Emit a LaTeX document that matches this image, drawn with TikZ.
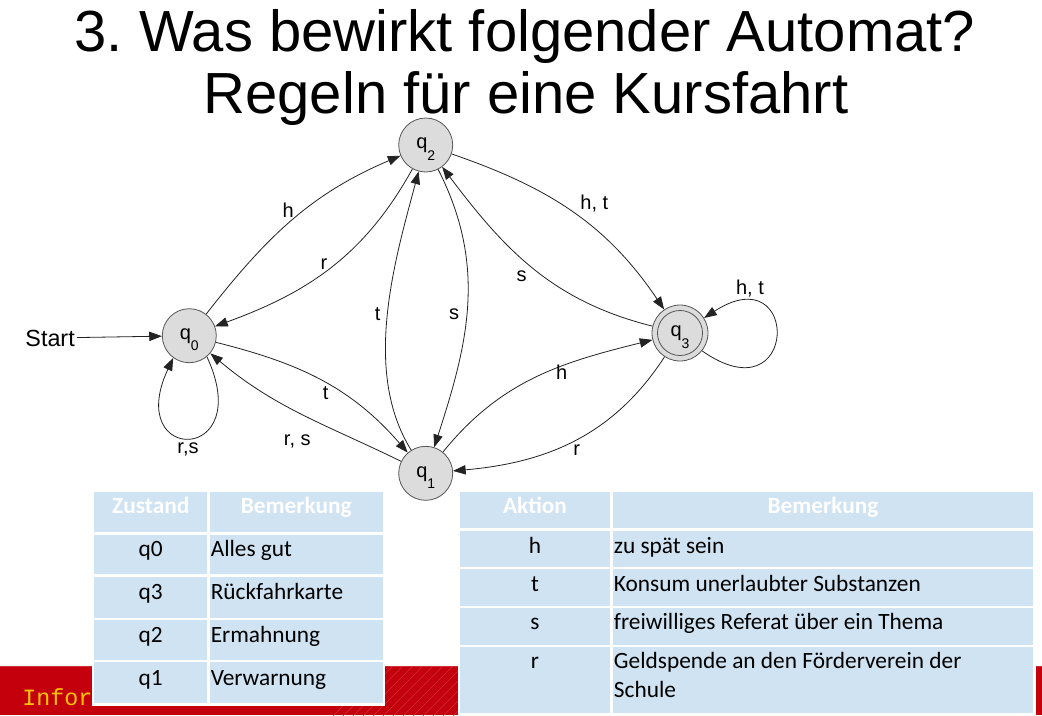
\documentclass[tikz,border=0pt]{standalone}
\usepackage{fontspec}
\setmainfont{Liberation Sans}
\newfontfamily\tablefont{Carlito}
\newfontfamily\footfont{Liberation Mono}
\usetikzlibrary{arrows.meta}
\definecolor{cellblue}{RGB}{207,227,242}
\definecolor{bandred}{RGB}{196,0,12}
\definecolor{stripe}{RGB}{208,48,60}
\definecolor{footyellow}{RGB}{255,196,0}
\definecolor{statefill}{RGB}{220,220,220}
\definecolor{stateline}{RGB}{85,85,85}
\definecolor{edgecol}{RGB}{35,35,35}
\frenchspacing
% state name with a lowered index that does not change the box size
\newcommand{\qsub}[1]{q\raisebox{-8.6pt}[0pt][0pt]{\fontsize{10.5pt}{12pt}\selectfont #1}}

\begin{document}
\begin{tikzpicture}[x=0.75pt,y=0.75pt,
  state/.style={circle, draw=stateline, line width=0.6pt, fill=statefill,
    minimum size=40.5pt, inner sep=0pt, font=\fontsize{15pt}{18pt}\selectfont,
    text height=7.8pt, text depth=2.2pt},
  accept/.style={state, minimum size=42pt,
    path picture={\draw[stateline, line width=0.6pt]
      (path picture bounding box.center) circle[radius=16.9pt];}},
  trans/.style={draw=edgecol, line width=0.6pt, -{Triangle[length=9.5pt,width=7pt]}},
  lbl/.style={font=\fontsize{15pt}{18pt}\selectfont, inner sep=0pt},
  gridline/.style={draw=white, line width=1.8pt},
  hdr/.style={font=\tablefont\bfseries\fontsize{17.5pt}{21pt}\selectfont,
    text=white, inner sep=0pt, anchor=base},
  txt/.style={font=\tablefont\fontsize{17.5pt}{21pt}\selectfont,
    inner sep=0pt, anchor=base west},
  ctr/.style={txt, anchor=base},
  titletext/.style={font=\fontsize{43.5pt}{52pt}\selectfont, inner sep=0pt, anchor=base},
]
\useasboundingbox (0,0) rectangle (1042,-715);
\fill[white] (0,0) rectangle (1042,-715);

% footer band
\fill[bandred] (0,-666) rectangle (1042,-715);
\begin{scope}
  \clip (333,-667) rectangle (460,-715);
  \foreach \i in {0,10,...,190}
    \draw[stripe, line width=0.5pt] (283+\i,-716) -- ++(50,50);
\end{scope}
\draw[stripe, line width=0.8pt] (0,-666.4) -- (1042,-666.4);
\node[font=\footfont\fontsize{17.5pt}{20pt}\selectfont, text=footyellow,
  inner sep=0pt, anchor=base west] (foot) at (22,-705) {Infor};

% title
\node[titletext] (title1) at (525,-51.5) {3. Was bewirkt folgender Automat?};
\node[titletext] (title2) at (526,-113) {Regeln für eine Kursfahrt};

% table of states: white frame, blue body, white grid
\fill[white] (91.7,-488) rectangle (385,-706);
\fill[cellblue] (94,-491.7) rectangle (383,-703.3);
\draw[gridline] (208.5,-491.7) -- (208.5,-703.3);
\draw[gridline, line width=2.6pt] (94,-533.4) -- (383,-533.4);
\foreach \y in {575.5, 618.9, 661.2}
  \draw[gridline] (94,-\y) -- (383,-\y);
\node[hdr] (zh1) at (150.7,-513.3) {Zustand};
\node[hdr] (zh2) at (296.2,-513.3) {Bemerkung};
\node[ctr] (za1) at (150.7,-556.3) {q0};
\node[txt] (za2) at (210.5,-556.3) {Alles gut};
\node[ctr] (zb1) at (150.7,-599.3) {q3};
\node[txt] (zb2) at (210.5,-599.3) {Rückfahrkarte};
\node[ctr] (zc1) at (150.7,-642) {q2};
\node[txt] (zc2) at (210.5,-642) {Ermahnung};
\node[ctr] (zd1) at (150.7,-685) {q1};
\node[txt] (zd2) at (210.5,-685) {Verwarnung};

% table of actions
\fill[white] (458,-488) rectangle (1035.5,-715);
\fill[cellblue] (459.5,-491.7) rectangle (1033.3,-712.7);
\draw[gridline] (611.3,-491.7) -- (611.3,-712.7);
\draw[gridline, line width=2.6pt] (459.5,-529.7) -- (1033.3,-529.7);
\foreach \y in {568.1, 606.7, 645.8}
  \draw[gridline] (459.5,-\y) -- (1033.3,-\y);
\node[hdr] (ah1) at (535,-513) {Aktion};
\node[hdr] (ah2) at (823,-513) {Bemerkung};
\node[ctr] (aa1) at (535,-553.2) {h};
\node[txt] (aa2) at (613.7,-553.2) {zu spät sein};
\node[ctr] (ab1) at (535,-591) {t};
\node[txt] (ab2) at (613.7,-591) {Konsum unerlaubter Substanzen};
\node[ctr] (ac1) at (535,-629.2) {s};
\node[txt] (ac2) at (613.7,-629.2) {freiwilliges Referat über ein Thema};
\node[ctr] (ad1) at (535,-668.3) {r};
\node[txt] (ad2) at (613.7,-668.3) {Geldspende an den Förderverein der};
\node[txt] (ad3) at (613.7,-697.3) {Schule};

% automaton
\node[state] (q0) at (189.3,-335.7) {\qsub{0}};
\node[state] (q2) at (425.7,-145) {\qsub{2}};
\node[state] (q1) at (425.7,-473.3) {\qsub{1}};
\node[accept] (q3) at (680,-333) {\qsub{3}};
\node[font=\fontsize{17.5pt}{20pt}\selectfont, inner sep=1.5pt, anchor=east]
  (start) at (77,-338) {Start};

\draw[trans] (start) -- (q0);
\draw[trans] (q0) to[out=52,in=203] (q2);
\draw[trans] (q2) to[out=241,in=20] (q0);
\draw[trans] (q0) to[out=-14,in=131] (q1);
\draw[trans] (q1) to[out=154,in=-40] (q0);
\draw[trans] (q1) to[out=122,in=255,looseness=0.85] (q2);
\draw[trans] (q2) to[out=297,in=72] (q1);
\draw[trans] (q2) to[out=-19,in=124] (q3);
\draw[trans] (q3) to[out=166,in=307] (q2);
\draw[trans] (q1) to[out=51,in=194] (q3);
\draw[trans] (q3) to[out=237,in=5] (q1);
\draw[trans] (q0.-50) .. controls +(50,-108) and +(-50,-107) .. (q0.234);
\draw[trans] (q3.-39) .. controls +(97,-68) and +(97,63) .. (q3.32);

% transition labels
\node[lbl] (l02) at (288.3,-210) {h};
\node[lbl] (l20) at (324,-264.3) {r};
\node[lbl] (l01) at (325.7,-393.3) {t};
\node[lbl] (l10) at (297.3,-441.7) {r, s};
\node[lbl] (l00) at (188,-449) {r,s};
\node[lbl] (l12) at (377.7,-314) {t};
\node[lbl] (l21) at (454,-314) {s};
\node[lbl] (l23) at (594.3,-204) {h, t};
\node[lbl] (l32) at (521.7,-276.7) {s};
\node[lbl] (l13) at (561.7,-372.7) {h};
\node[lbl] (l31) at (576.7,-450) {r};
\node[lbl] (l33) at (750,-289) {h, t};
\end{tikzpicture}
\end{document}
